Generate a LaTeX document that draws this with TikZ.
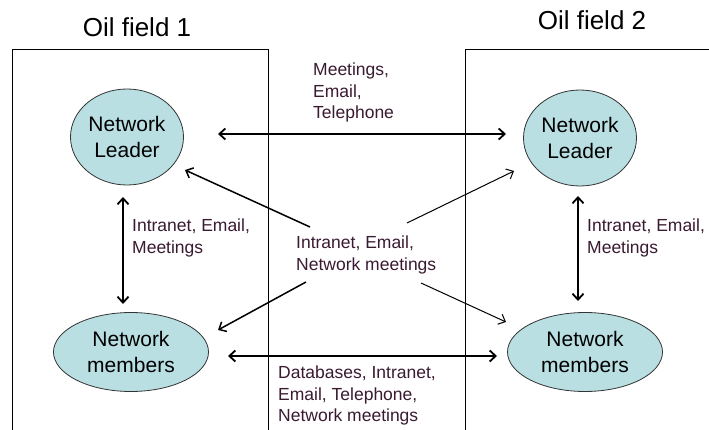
\documentclass[tikz,border=0pt]{standalone}
\usepackage{fontspec}
\setmainfont{Liberation Sans}
\usetikzlibrary{arrows.meta,shapes.geometric}
\definecolor{nodefill}{HTML}{B9DFE3}
\definecolor{labeltext}{HTML}{3A1A30}
\tikzset{
  person/.style={ellipse, draw=black!80, line width=0.8pt, fill=nodefill,
    inner sep=0pt, align=center, font=\fontsize{21}{26}\selectfont},
  medium/.style={align=left, anchor=north west, inner sep=0pt, text=labeltext,
    font=\fontsize{17.5}{21.5}\selectfont},
  fieldtitle/.style={inner sep=0pt, font=\fontsize{26}{30}\selectfont},
  field/.style={line width=0.9pt},
  link/.style={line width=1.8pt, {Straight Barb[length=6pt,width=11pt]}-{Straight Barb[length=6pt,width=11pt]}},
  flow/.style={line width=1.5pt, -{Straight Barb[length=6pt,width=11pt]}},
  thinflow/.style={line width=1pt, -{Straight Barb[length=6pt,width=11pt]}}
}
\begin{document}
\begin{tikzpicture}[x=1pt,y=-1pt]
\useasboundingbox (0,0) rectangle (709,430);
\fill[white] (0,0) rectangle (709,430);

% the two oil field frames, open at the bottom edge
\draw[field] (12,432) -- (12,49) -- (268,49) -- (268,432);
\draw[field] (465,432) -- (465,49) -- (712,49);
\node[fieldtitle] (t1) at (137,27) {Oil field 1};
\node[fieldtitle] (t2) at (592,20) {Oil field 2};

% people in each field
\node[person, minimum width=113pt, minimum height=96pt] (L1) at (127,137) {Network\\Leader};
\node[person, minimum width=155pt, minimum height=79pt] (M1) at (131,352) {Network\\members};
\node[person, minimum width=113pt, minimum height=96pt] (L2) at (580,138) {Network\\Leader};
\node[person, minimum width=155pt, minimum height=79pt] (M2) at (585,352) {Network\\members};

% channel labels
\node[medium] (top) at (313,63) {Meetings,\\Email,\\Telephone};
\node[medium] (in1) at (132,219) {Intranet, Email,\\Meetings};
\node[medium] (in2) at (587,219) {Intranet, Email,\\Meetings};
\node[medium] (mid) at (296,236) {Intranet, Email,\\Network meetings};
\node[medium] (bot) at (278,366) {Databases, Intranet,\\Email, Telephone,\\Network meetings};

% arrow end points
\coordinate (a1) at (218,134);
\coordinate (a2) at (506,134);
\coordinate (b1) at (228,356);
\coordinate (b2) at (497,356);
\coordinate (v1a) at (123,197);
\coordinate (v1b) at (123,304);
\coordinate (v2a) at (578,196);
\coordinate (v2b) at (578,301);
\coordinate (d1s) at (310,227);
\coordinate (d1e) at (185,170);
\coordinate (d2s) at (306,282);
\coordinate (d2e) at (218,330);
\coordinate (d3s) at (407,223);
\coordinate (d3e) at (514,171);
\coordinate (d4s) at (421,283);
\coordinate (d4e) at (506,322);

\draw[link] (a1) -- (a2);
\draw[link] (b1) -- (b2);
\draw[link] (v1a) -- (v1b);
\draw[link] (v2a) -- (v2b);
\draw[flow] (d1s) -- (d1e);
\draw[flow] (d2s) -- (d2e);
\draw[thinflow] (d3s) -- (d3e);
\draw[thinflow] (d4s) -- (d4e);
\end{tikzpicture}
\end{document}
